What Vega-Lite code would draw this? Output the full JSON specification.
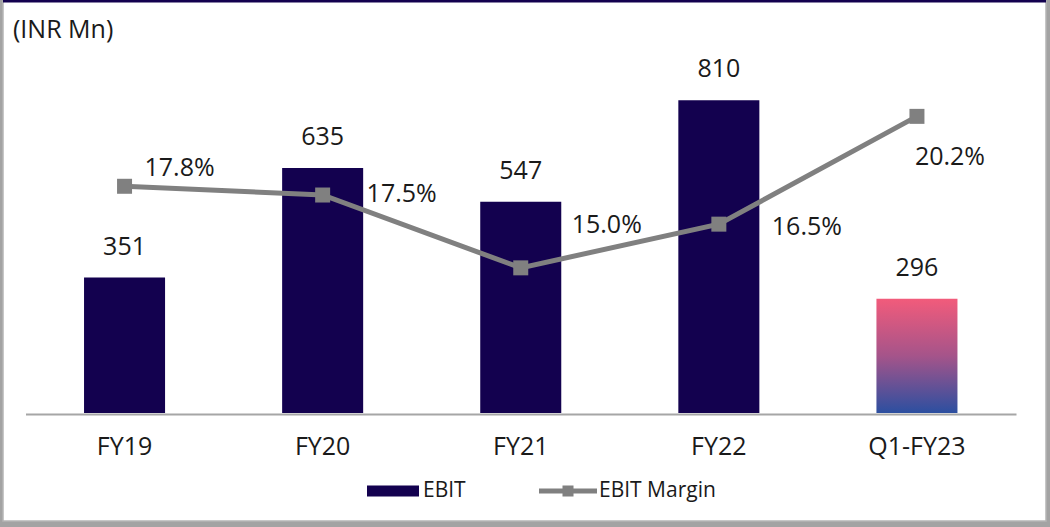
{
  "$schema": "https://vega.github.io/schema/vega-lite/v6.json",
  "width": 1043,
  "height": 520,
  "autosize": "none",
  "padding": {"left": 3, "top": 1, "right": 4, "bottom": 6},
  "background": "#A3A3A3",
  "config": {
    "view": {"fill": "white", "stroke": "#B5B5B5", "strokeWidth": 1.5},
    "font": "Open Sans"
  },
  "title": {
    "text": "(INR Mn)",
    "anchor": "start",
    "frame": "group",
    "orient": "top",
    "offset": 0,
    "fontSize": 25,
    "fontWeight": "normal",
    "font": "Open Sans",
    "color": "#1A1A1A",
    "baseline": "top",
    "dx": 10,
    "dy": 43
  },
  "data": {
    "values": [
      {"period": "FY19", "ebit": 351, "margin": 17.8, "marginLabel": "17.8%"},
      {"period": "FY20", "ebit": 635, "margin": 17.5, "marginLabel": "17.5%"},
      {"period": "FY21", "ebit": 547, "margin": 15.0, "marginLabel": "15.0%"},
      {"period": "FY22", "ebit": 810, "margin": 16.5, "marginLabel": "16.5%"},
      {"period": "Q1-FY23", "ebit": 296, "margin": 20.2, "marginLabel": "20.2%"}
    ]
  },
  "layer": [
    {
      "encoding": {
        "x": {
          "field": "period",
          "type": "nominal",
          "sort": null,
          "scale": {"range": [22.5, 1013], "paddingInner": 0.591, "paddingOuter": 0.2955},
          "axis": {
            "title": null,
            "orient": "bottom",
            "offset": -107,
            "ticks": false,
            "tickSize": 0,
            "labelAngle": 0,
            "labelFontSize": 25,
            "labelFont": "Open Sans",
            "labelColor": "#1A1A1A",
            "labelBaseline": "middle",
            "labelPadding": 32,
            "domainColor": "#A6A6A6",
            "domainWidth": 2,
            "grid": false
          }
        },
        "y": {
          "field": "ebit",
          "type": "quantitative",
          "scale": {"domain": [-279.8, 1067.4], "nice": false},
          "axis": null
        }
      },
      "layer": [
        {
          "transform": [{"filter": "datum.period !== 'Q1-FY23'"}],
          "mark": {"type": "bar"},
          "encoding": {
            "color": {
              "datum": "EBIT",
              "type": "nominal",
              "scale": {"range": ["#13014F"]},
              "legend": {
                "orient": "none",
                "legendX": 364,
                "legendY": 464,
                "title": null,
                "symbolType": "M-1,-0.21H1V0.21H-1Z",
                "symbolSize": 2704,
                "symbolStrokeWidth": 0,
                "symbolOpacity": 1,
                "labelFontSize": 21,
                "labelFont": "Open Sans",
                "labelColor": "#1A1A1A",
                "labelOffset": 4,
                "padding": 0
              }
            }
          }
        },
        {
          "transform": [{"filter": "datum.period === 'Q1-FY23'"}],
          "mark": {
            "type": "bar",
            "color": {
              "gradient": "linear",
              "x1": 0, "y1": 0, "x2": 0, "y2": 1,
              "stops": [
                {"offset": 0, "color": "#F25B7B"},
                {"offset": 0.5, "color": "#A5548A"},
                {"offset": 1, "color": "#2C4FA0"}
              ]
            }
          }
        },
        {
          "mark": {"type": "text", "dy": -31, "fontSize": 25, "font": "Open Sans", "color": "#1A1A1A", "baseline": "middle"},
          "encoding": {"text": {"field": "ebit", "type": "quantitative"}}
        }
      ]
    },
    {
      "encoding": {
        "x": {
          "field": "period",
          "type": "nominal",
          "sort": null,
          "scale": {"range": [22.5, 1013], "paddingInner": 0.591, "paddingOuter": 0.2955},
          "axis": {
            "title": null,
            "orient": "bottom",
            "offset": -107,
            "ticks": false,
            "tickSize": 0,
            "labelAngle": 0,
            "labelFontSize": 25,
            "labelFont": "Open Sans",
            "labelColor": "#1A1A1A",
            "labelBaseline": "middle",
            "labelPadding": 32,
            "domainColor": "#A6A6A6",
            "domainWidth": 2,
            "grid": false
          }
        },
        "y": {
          "field": "margin",
          "type": "quantitative",
          "scale": {"domain": [6.31, 24.16], "nice": false, "zero": false},
          "axis": null
        }
      },
      "layer": [
        {"mark": {"type": "line", "color": "#808080", "strokeWidth": 5}},
        {
          "mark": {"type": "point", "shape": "square", "filled": true, "size": 225, "opacity": 1},
          "encoding": {
            "fill": {
              "datum": "EBIT Margin",
              "type": "nominal",
              "scale": {"range": ["#808080"]},
              "legend": {
                "orient": "none",
                "legendX": 536,
                "legendY": 461,
                "title": null,
                "symbolType": "M-1,-0.086H1V0.086H-1Z M-0.19,-0.19H0.19V0.19H-0.19Z",
                "symbolSize": 3364,
                "symbolStrokeWidth": 0,
                "symbolOpacity": 1,
                "labelFontSize": 21,
                "labelFont": "Open Sans",
                "labelColor": "#1A1A1A",
                "labelOffset": 2,
                "padding": 0
              }
            }
          }
        },
        {
          "transform": [{"filter": "datum.period === 'FY19'"}],
          "mark": {"type": "text", "dx": 55, "dy": -18, "fontSize": 25, "font": "Open Sans", "color": "#1A1A1A", "baseline": "middle"},
          "encoding": {"text": {"field": "marginLabel", "type": "nominal"}}
        },
        {
          "transform": [{"filter": "datum.period === 'FY20'"}],
          "mark": {"type": "text", "dx": 79, "dy": -1, "fontSize": 25, "font": "Open Sans", "color": "#1A1A1A", "baseline": "middle"},
          "encoding": {"text": {"field": "marginLabel", "type": "nominal"}}
        },
        {
          "transform": [{"filter": "datum.period === 'FY21'"}],
          "mark": {"type": "text", "dx": 86, "dy": -43, "fontSize": 25, "font": "Open Sans", "color": "#1A1A1A", "baseline": "middle"},
          "encoding": {"text": {"field": "marginLabel", "type": "nominal"}}
        },
        {
          "transform": [{"filter": "datum.period === 'FY22'"}],
          "mark": {"type": "text", "dx": 88, "dy": 3, "fontSize": 25, "font": "Open Sans", "color": "#1A1A1A", "baseline": "middle"},
          "encoding": {"text": {"field": "marginLabel", "type": "nominal"}}
        },
        {
          "transform": [{"filter": "datum.period === 'Q1-FY23'"}],
          "mark": {"type": "text", "dx": 33, "dy": 41, "fontSize": 25, "font": "Open Sans", "color": "#1A1A1A", "baseline": "middle"},
          "encoding": {"text": {"field": "marginLabel", "type": "nominal"}}
        }
      ]
    },
    {
      "data": {"values": [{}]},
      "mark": {"type": "rule", "color": "#13014F", "strokeWidth": 3},
      "encoding": {
        "y": {"datum": 1, "type": "quantitative", "scale": {"domain": [0, 1], "nice": false}, "axis": null}
      }
    }
  ],
  "resolve": {"scale": {"y": "independent"}}
}
